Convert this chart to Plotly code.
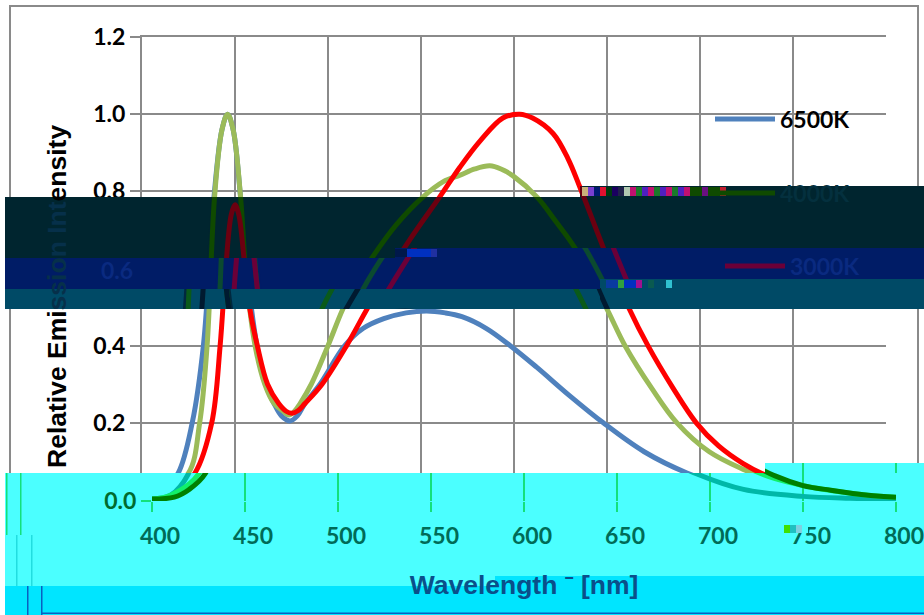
import plotly.graph_objects as go

W, H = 924, 615
# plot-area calibration in pixels
PX0, PX1, PY0, PY1 = 142, 886, 37, 500
XMIN, XMAX, YMAX = 400, 800, 1.2
SX = (PX1 - PX0) / (XMAX - XMIN)
SY = (PY1 - PY0) / YMAX

tick_x = [400, 450, 500, 550, 600, 650, 700, 750, 800]
tick_y_clear = [0.2, 0.4, 0.8, 1.0, 1.2]
tick_y_foot = [0.0]

wl_6500 = [400, 410, 419.5, 427, 433, 438.7, 443, 446, 449, 453, 457.5, 461.8, 466.5, 471, 475, 479.6, 483.5, 487.6,
           495.7, 509, 519, 530, 542, 553, 563, 572, 585, 598, 612, 630, 648, 670, 693, 718, 750, 775, 800]
val_6500 = [0.005, 0.015, 0.07, 0.2, 0.4, 0.785, 0.96, 1.0, 0.96, 0.785, 0.55, 0.4, 0.3, 0.25, 0.218, 0.205, 0.218, 0.25,
            0.3, 0.4, 0.445, 0.47, 0.485, 0.49, 0.485, 0.475, 0.445, 0.4, 0.345, 0.27, 0.2, 0.125, 0.07, 0.03, 0.012, 0.007, 0.005]

wl_4000 = [400, 410, 425, 431, 435, 439, 443, 446, 449, 453, 456, 460.8, 466, 471, 476, 479, 482, 485, 491, 500, 508,
           515, 524, 537, 551, 562, 571, 579, 587, 593, 599.5, 612.4, 622, 632.8, 650, 659.7, 674, 687.6, 705, 723, 735, 750, 765, 785, 800]
val_4000 = [0.005, 0.015, 0.07, 0.2, 0.4, 0.785, 0.96, 1.0, 0.96, 0.785, 0.58, 0.4, 0.3, 0.25, 0.23, 0.22, 0.23, 0.25, 0.3, 0.4, 0.495,
            0.56, 0.63, 0.715, 0.785, 0.825, 0.842, 0.858, 0.866, 0.858, 0.84, 0.785, 0.725, 0.653, 0.495, 0.4, 0.29, 0.2, 0.125, 0.08, 0.058, 0.04, 0.027, 0.015, 0.01]

wl_3000 = [400, 412, 420, 428.5, 437.5, 442, 445, 448, 450, 452, 455, 458, 462, 467.5, 473.5, 477.5, 480.6, 484, 487.6, 496.8, 510,
           521, 529.6, 544, 560, 571, 581.7, 594, 603, 610, 621, 629, 635.5, 650, 662, 672, 685.5, 698, 710, 723, 735, 750, 765, 785, 800]
val_3000 = [0.005, 0.01, 0.03, 0.07, 0.2, 0.4, 0.6, 0.74, 0.765, 0.74, 0.62, 0.495, 0.4, 0.3, 0.25, 0.23, 0.225, 0.232, 0.25, 0.3, 0.4,
            0.495, 0.565, 0.675, 0.785, 0.863, 0.93, 0.99, 1.0, 0.99, 0.95, 0.885, 0.81, 0.63, 0.495, 0.4, 0.29, 0.2, 0.14, 0.095, 0.065, 0.04, 0.028, 0.015, 0.01]

series_names = ["6500K", "4000K", "3000K"]
series_x = [wl_6500, wl_4000, wl_3000]
series_y = [val_6500, val_4000, val_3000]
main_colors = ["#4F81BD", "#9BBB59", "#FF0000"]
LW = 5
SMOOTH = 1.0

DARK, NAVY, TEAL = "#00252F", "#001C66", "#004A66"
pal_dark = ["#00252F", "#0F4A00", "#6B0010"]
pal_navy = ["#001C66", "#0B4A30", "#6B0038"]
pal_teal = ["#00283F", "#0A5A1A", "#001A30"]
pal_cyan = ["#00B8A8", "#11F06A", "#008000"]

# (x0, x1, y0, y1, dx, fill, curve colours) in pixels: the shifted horizontal bands across the picture
bands = [
    (580, 924, 186, 197, 0, DARK, pal_dark),
    (5, 924, 197, 248, 0, DARK, pal_dark),
    (5, 395, 248, 258, 0, DARK, pal_dark),
    (395, 924, 248, 258, 10, NAVY, pal_navy),
    (5, 924, 258, 279, 10, NAVY, pal_navy),
    (5, 600, 279, 289, 10, NAVY, pal_navy),
    (600, 924, 279, 309, -22, TEAL, pal_teal),
    (5, 600, 289, 309, -21, TEAL, pal_teal),
]

def fx(p): return p / W
def fy(p): return 1 - p / H
def x_at(p, dx=0): return XMIN + (p - PX0 - dx) / SX
def y_at(p, dy=0): return (PY1 + dy - p) / SY

fig = go.Figure()
layout_axes = {}
shapes = []
GREY = "#8A8A8A"

# chart frame, under everything
shapes.append(dict(type="rect", xref="paper", yref="paper", x0=fx(10), x1=fx(918), y0=fy(6), y1=fy(600),
                   line=dict(color=GREY, width=2), layer="below"))

tickfont = dict(family="Lato", size=23, weight=700, color="#000000")
layout_axes["xaxis"] = dict(domain=[fx(PX0), fx(PX1)], range=[XMIN, XMAX], tickvals=tick_x, showticklabels=False,
                            showgrid=True, gridcolor=GREY, gridwidth=2, zeroline=False, showline=True, linecolor=GREY,
                            linewidth=2, mirror=True, anchor="y", layer="below traces")
layout_axes["yaxis"] = dict(domain=[fy(PY1), fy(PY0)], range=[0, YMAX], tickvals=tick_y_clear, tickformat=".1f", tickfont=tickfont,
                            showgrid=True, gridcolor=GREY, gridwidth=2, zeroline=False, showline=True, linecolor=GREY,
                            linewidth=2, ticks="outside", ticklen=10, tickcolor=GREY, tickwidth=2, anchor="x", layer="below traces")

def curve_line(c):
    return dict(color=c, width=LW, shape="spline", smoothing=SMOOTH)

for n, xs, ys, c in zip(series_names, series_x, series_y, main_colors):
    fig.add_trace(go.Scatter(x=xs, y=ys, mode="lines", name=n, line=curve_line(c),
                             showlegend=n == "6500K", legend="legend", hoverinfo="skip"))

axis_id = 2
hidden = dict(visible=False, fixedrange=True)

def add_band(x0, x1, y0, y1, dx, fill, colors, dy=0, legend_for=None):
    global axis_id
    i = axis_id
    axis_id += 1
    xr = [x_at(x0, dx), x_at(x1, dx)]
    yr = [y_at(y1, dy), y_at(y0, dy)]
    layout_axes[f"xaxis{i}"] = dict(hidden, domain=[fx(x0), fx(x1)], range=xr, anchor=f"y{i}")
    layout_axes[f"yaxis{i}"] = dict(hidden, domain=[fy(y1), fy(y0)], range=yr, anchor=f"x{i}")
    shapes.append(dict(type="rect", xref=f"x{i}", yref=f"y{i}", x0=xr[0], x1=xr[1], y0=yr[0], y1=yr[1],
                       fillcolor=fill, line=dict(width=0), layer="below"))
    for n, xs, ys, c in zip(series_names, series_x, series_y, colors):
        leg = legend_for.get(n) if legend_for else None
        fig.add_trace(go.Scatter(x=xs, y=ys, mode="lines", name=n, xaxis=f"x{i}", yaxis=f"y{i}",
                                 line=curve_line(c),
                                 showlegend=leg is not None, legend=leg or "legend", hoverinfo="skip"))

for k, b in enumerate(bands):
    lf = None
    if k == 1:
        lf = {"4000K": "legend2"}
    if k == 4:
        lf = {"3000K": "legend3"}
    add_band(*b, legend_for=lf)

# cyan holder at the foot of the picture
i = axis_id
axis_id += 1
layout_axes[f"xaxis{i}"] = dict(hidden, domain=[fx(5), fx(924)], range=[0, 1], anchor=f"y{i}")
layout_axes[f"yaxis{i}"] = dict(hidden, domain=[0, fy(473)], range=[0, 1], anchor=f"x{i}")
def holder_rect(x0, x1, y0, y1, color):
    shapes.append(dict(type="rect", xref=f"x{i}", yref=f"y{i}",
                       x0=(x0 - 5) / 919, x1=(x1 - 5) / 919, y0=(615 - y1) / 142, y1=(615 - y0) / 142,
                       fillcolor=color, line=dict(width=0), layer="below"))
holder_rect(5, 924, 473, 615, "#4BFFFF")
holder_rect(5, 495, 586, 615, "#00E5FF")
holder_rect(495, 924, 576, 615, "#00E5FF")
for xp, y0p, y1p, col in [(6, 473, 535, "#14E07A"), (20, 473, 535, "#14E07A"), (16, 535, 586, "#22DDE0"),
                          (31, 535, 586, "#22DDE0"), (27, 586, 615, "#0A5FC0"), (41, 586, 615, "#0A5FC0")]:
    holder_rect(xp, xp + 1.5, y0p, y1p, col)
holder_rect(41, 924, 612.5, 614, "#0A5FC0")
fig.add_trace(go.Scatter(x=[0], y=[0], mode="lines", xaxis=f"x{i}", yaxis=f"y{i}", showlegend=False, hoverinfo="skip"))

# cyan band content, shifted 10 px right and 1 px down
DX, DY = 10, 1
i2 = axis_id
axis_id += 1
layout_axes[f"xaxis{i2}"] = dict(domain=[fx(PX0 + DX), fx(PX1 + DX)], range=[XMIN, XMAX], tickvals=tick_x, anchor=f"y{i2}",
                                 tickfont=dict(tickfont, color="#006B57"), showgrid=True, gridcolor="#14E07A", gridwidth=2,
                                 zeroline=False, showline=False, ticks="outside", ticklen=10, tickcolor="#14E07A", tickwidth=2,
                                 ticklabelstandoff=4, ticklabelshift=8, ticklabeloverflow="allow", fixedrange=True,
                                 title=dict(text="Wavelength ˉ [nm]", standoff=27,
                                            font=dict(family="Liberation Sans", size=26.5, weight=700, color="#0A4F8A")))
layout_axes[f"yaxis{i2}"] = dict(domain=[fy(PY1 + DY), fy(473)], range=[0, y_at(473, DY)], tickvals=tick_y_foot, tickformat=".1f",
                                 tickfont=dict(tickfont, color="#006B2F"), showgrid=True, gridcolor="#14E07A", gridwidth=2,
                                 zeroline=False, showline=False, ticks="outside", ticklen=10, tickcolor="#14E07A", tickwidth=2,
                                 anchor=f"x{i2}", fixedrange=True)
for n, xs, ys, c in zip(series_names, series_x, series_y, pal_cyan):
    fig.add_trace(go.Scatter(x=xs, y=ys, mode="lines", name=n, xaxis=f"x{i2}", yaxis=f"y{i2}", showlegend=False,
                             line=curve_line(c), hoverinfo="skip"))

# taller part of the cyan band on the right
i3 = axis_id
axis_id += 1
xr3 = [x_at(765, DX), x_at(924, DX)]
yr3 = [y_at(473, DY), y_at(463, DY)]
layout_axes[f"xaxis{i3}"] = dict(domain=[fx(765), fx(924)], range=xr3, anchor=f"y{i3}",
                                 tickvals=tick_x, showticklabels=False, showgrid=True, gridcolor="#14E07A", gridwidth=2,
                                 zeroline=False, fixedrange=True)
layout_axes[f"yaxis{i3}"] = dict(hidden, domain=[fy(473), fy(463)], range=yr3, anchor=f"x{i3}")
shapes.append(dict(type="rect", xref=f"x{i3}", yref=f"y{i3}", x0=xr3[0], x1=xr3[1], y0=yr3[0], y1=yr3[1],
                   fillcolor="#4BFFFF", line=dict(width=0), layer="below"))
for n, xs, ys, c in zip(series_names, series_x, series_y, pal_cyan):
    fig.add_trace(go.Scatter(x=xs, y=ys, mode="lines", name=n, xaxis=f"x{i3}", yaxis=f"y{i3}", showlegend=False,
                             line=curve_line(c), hoverinfo="skip"))

# little blocks of corrupted pixels at the band edges
noise_runs = [
    (582, 187, 196, ["#C9B27A", "#7A3FD0", "#001A70", "#E01030", "#003A10", "#1A0060", "#20204A", "#B0C8B0", "#C01070", "#1A7A2A",
                     "#5020C0", "#C01070", "#1A7A2A", "#5020C0", "#C01070", "#1A7A2A", "#5020C0", "#C01070", "#0F4A00", "#0F4A00",
                     "#6A1080", "#0F4A00", "#0F4A00", "#C02030"]),
    (395, 249, 257, ["#00184A", "#00184A", "#0030C0", "#0030C0", "#0030C0", "#0030C0", "#2030A0"]),
    (600, 280, 288, ["#004A66", "#0A3AA0", "#0A3AA0", "#30A040", "#0030C0", "#0030C0", "#A01090", "#004A66", "#0A5A50", "#004A66", "#004A66", "#30C0D0"]),
    (784, 525, 533, ["#40E000", "#20C0C0", "#80D0E0", "#4BFFFF"]),
]
for x_start, y0p, y1p, cols in noise_runs:
    for k, col in enumerate(cols):
        shapes.append(dict(type="rect", xref="paper", yref="paper", x0=fx(x_start + k * 6), x1=fx(x_start + (k + 1) * 6),
                           y0=fy(y1p), y1=fy(y0p), fillcolor=col, line=dict(width=0), layer="above"))

def title_span(t, c):
    return f'<span style="color:{c}">{t}</span>'

annotations = [
    dict(text=title_span("Relative Emi", "#000000") + title_span("ssion Int", "#06304A") + title_span("ensity", "#000000"),
         xref="paper", yref="paper", x=fx(57), y=fy(297), textangle=-90, showarrow=False, xanchor="center", yanchor="middle",
         font=dict(family="Liberation Sans", size=26.5, weight=700)),
    dict(text="0.6", xref="paper", yref="paper", x=fx(117), y=fy(270), showarrow=False, xanchor="center", yanchor="middle",
         font=dict(family="Lato", size=23, weight=700, color="#0A2A80")),
]

legend_font = dict(family="Lato", size=23, weight=700)
def legend_at(px, py, color):
    return dict(x=fx(px), y=fy(py), xanchor="left", yanchor="middle", bgcolor="rgba(0,0,0,0)", borderwidth=0,
                itemwidth=60, font=dict(legend_font, color=color), itemclick=False, itemdoubleclick=False)

fig.update_layout(
    template="none",
    width=W, height=H, autosize=False, margin=dict(l=0, r=0, t=0, b=0, pad=0),
    paper_bgcolor="#FFFFFF", plot_bgcolor="rgba(0,0,0,0)", font=dict(family="Lato"),
    shapes=shapes, annotations=annotations,
    legend=legend_at(710, 119, "#000000"),
    legend2=legend_at(710, 193, "#04303E"),
    legend3=legend_at(720, 266, "#0A2A80"),
    **layout_axes,
)
fig.write_html("out.html", config=dict(displayModeBar=False, staticPlot=True),
               post_script="document.body.style.margin='0';document.body.style.overflow='hidden';")
